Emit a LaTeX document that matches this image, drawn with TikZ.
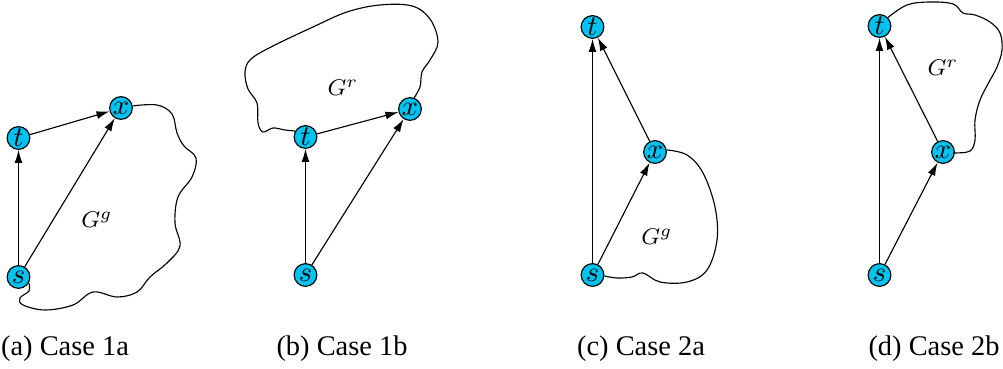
\documentclass[tikz,border=0pt]{standalone}
\usepackage{fontspec}
\setmainfont{Liberation Serif}
\usetikzlibrary{arrows.meta, positioning}
\definecolor{vtxblue}{RGB}{0, 195, 240}

\begin{document}
\begin{tikzpicture}[
  x=0.352pt, y=-0.352pt,
  vtx/.style={circle, draw=black, fill=vtxblue, inner sep=0pt,
              minimum size=8pt, font=\normalsize},
  arc/.style={-{Latex[length=4.6pt,width=2.8pt]}, thin},
  region/.style={thin, smooth, tension=0.6},
  glabel/.style={font=\footnotesize},
  captext/.style={font=\normalsize, inner sep=0pt},
]
  \useasboundingbox (0,0) rectangle (1003,369);

  % (a) case 1a
  \node[vtx] (sa) at (18.5,277) {$s$};
  \node[vtx] (ta) at (18.5,138) {$t$};
  \node[vtx] (xa) at (121,108) {$x$};
  \draw[arc] (sa) -- (ta);
  \draw[arc] (ta) -- (xa);
  \draw[arc] (sa) -- (xa);
  \draw[region] plot coordinates {(xa.10) (157,105) (172,114) (177,133) (184,146)
    (196,158) (192,177) (178,197) (175,223) (180,246) (167,263) (150,277)
    (137,292) (117,297) (93,292) (73,305) (45,310) (23,305) (20,298) (29,291)
    (sa.-30)};
  \node[glabel] (gga) at (97,220) {$G^g$};
  \node[captext] (capa) at (65,349) {(a) Case 1a};

  % (b) case 1b
  \node[vtx] (sb) at (305.5,275) {$s$};
  \node[vtx] (tb) at (305.5,137) {$t$};
  \node[vtx] (xb) at (410,109) {$x$};
  \draw[arc] (sb) -- (tb);
  \draw[arc] (tb) -- (xb);
  \draw[arc] (sb) -- (xb);
  \draw[region] plot coordinates {(tb.150) (285,130) (273,128) (263,132) (258,123)
    (257,103) (248,89) (245,72) (251,59) (273,46) (313,27) (347,12) (380,5)
    (412,6) (430,19) (438,42) (430,60) (422,72) (420,87) (xb.70)};
  \node[glabel] (grb) at (343,88) {$G^r$};
  \node[captext] (capb) at (342,349) {(b) Case 1b};

  % (c) case 2a
  \node[vtx] (sc) at (592.5,275) {$s$};
  \node[vtx] (tc) at (592.5,27) {$t$};
  \node[vtx] (xc) at (655,152) {$x$};
  \draw[arc] (sc) -- (tc);
  \draw[arc] (sc) -- (xc);
  \draw[arc] (xc) -- (tc);
  \draw[region] plot coordinates {(xc.10) (687,155) (703,173) (715,207) (717,240)
    (707,270) (687,282) (660,282) (643,273) (632,277) (617,278) (sc.-5)};
  \node[glabel] (ggc) at (657,237) {$G^g$};
  \node[captext] (capc) at (641,349) {(c) Case 2a};

  % (d) case 2b
  \node[vtx] (sd) at (879.5,275) {$s$};
  \node[vtx] (td) at (879.5,26) {$t$};
  \node[vtx] (xd) at (943,152) {$x$};
  \draw[arc] (sd) -- (td);
  \draw[arc] (sd) -- (xd);
  \draw[arc] (xd) -- (td);
  \draw[region] plot coordinates {(td.45) (907,5) (930,2) (953,4) (963,13) (975,15)
    (990,22) (1000,33) (1002,50) (997,67) (989,82) (980,100) (975,120) (975,140)
    (970,151) (955,153) (xd.0)};
  \node[glabel] (grd) at (943,68) {$G^r$};
  \node[captext] (capd) at (934,349) {(d) Case 2b};
\end{tikzpicture}
\end{document}
